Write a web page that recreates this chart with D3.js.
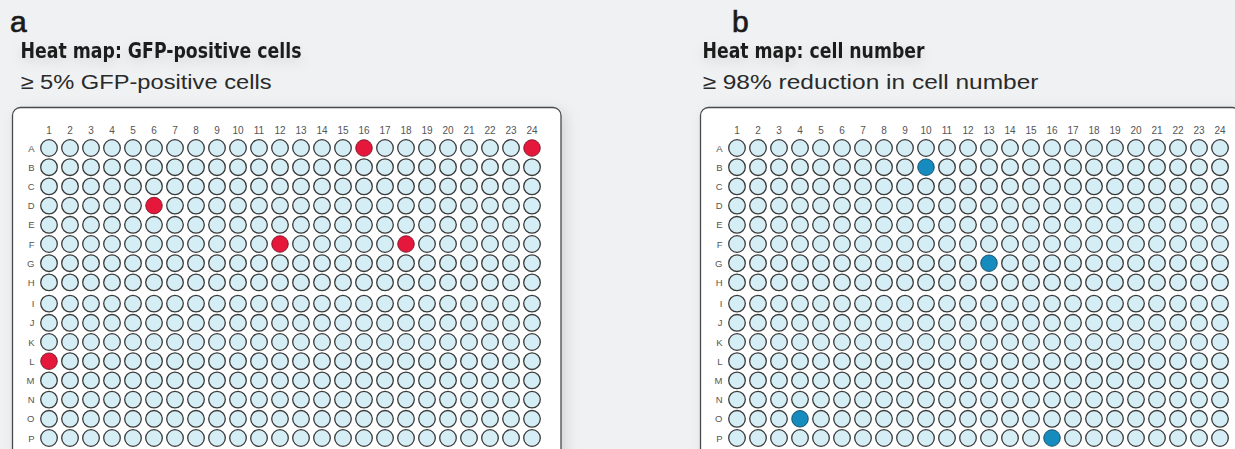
<!DOCTYPE html>
<html>
<head>
<meta charset="utf-8">
<script src="https://cdn.jsdelivr.net/npm/d3@7"></script>
<style>
  html, body { margin: 0; padding: 0; background: #eff1f3; }
  svg { display: block; }
</style>
</head>
<body>
<svg id="chart" width="1235" height="449"></svg>
<script>
// ---- data ----
const rows = ["A","B","C","D","E","F","G","H","I","J","K","L","M","N","O","P"];
const cols = [1,2,3,4,5,6,7,8,9,10,11,12,13,14,15,16,17,18,19,20,21,22,23,24];
// wells over threshold, panel a: >= 5% GFP-positive cells
const gfpHits = [["A",16],["A",24],["D",6],["F",12],["F",18],["L",1]];
// wells over threshold, panel b: >= 98% reduction in cell number
const cellHits = [["B",10],["G",13],["O",4],["P",16]];
const panelLetters = ["a","b"];
const panelTitles = ["Heat map: GFP-positive cells","Heat map: cell number"];
const panelSubtitles = ["\u2265 5% GFP-positive cells","\u2265 98% reduction in cell number"];

// ---- drawing ----
const svg = d3.select("#chart");
const defs = svg.append("defs");
const f = defs.append("filter").attr("id","shadow").attr("x","-10%").attr("y","-10%").attr("width","130%").attr("height","130%");
f.append("feDropShadow").attr("dx",4).attr("dy",4).attr("stdDeviation",7)
  .attr("flood-color","#000").attr("flood-opacity",0.12);
const tf = defs.append("filter").attr("id","tshadow").attr("x","-10%").attr("y","-50%").attr("width","120%").attr("height","200%");
tf.append("feDropShadow").attr("dx",0).attr("dy",5).attr("stdDeviation",6)
  .attr("flood-color","#000").attr("flood-opacity",0.10);

const panels = [
  { letter: panelLetters[0], title: panelTitles[0], sub: panelSubtitles[0], hits: gfpHits, hitFill: "#e5173b", hitStroke: "#6b1020",
    letterX: 10, textX: 20.5, box: [12.5, 107.5, 548.5], xr: [49, 532], titleW: 281, subW: 251 },
  { letter: panelLetters[1], title: panelTitles[1], sub: panelSubtitles[1], hits: cellHits, hitFill: "#168bbd", hitStroke: "#0d3d55",
    letterX: 732, textX: 702.5, box: [700.5, 107.5, 540], xr: [737, 1220], titleW: 222, subW: 336 }
];

const yp = d3.scalePoint().domain(rows).range([148, 148 + 15 * 19.2]);
const y = r => yp(r) + (rows.indexOf(r) >= 8 ? 2 : 0);

panels.forEach(p => {
  const g = svg.append("g");
  const x = d3.scalePoint().domain(cols).range(p.xr);

  g.append("text").attr("x", p.letterX).attr("y", 31.5)
    .attr("font-family", "'Liberation Sans', Arial, sans-serif")
    .attr("font-size", 30).attr("fill", "#1a1a1a")
    .attr("stroke", "#1a1a1a").attr("stroke-width", 0.7)
    .text(p.letter);

  g.append("text").attr("x", p.textX).attr("y", 57.5)
    .attr("font-family", "'Liberation Sans Narrow', 'DejaVu Sans Condensed', sans-serif")
    .attr("font-weight", "bold").attr("font-size", 20.5).attr("fill", "#1f1f1f")
    .attr("textLength", p.titleW).attr("lengthAdjust", "spacingAndGlyphs")
    .attr("filter", "url(#tshadow)")
    .text(p.title);

  g.append("text").attr("x", p.textX).attr("y", 89)
    .attr("font-family", "'Liberation Sans', Arial, sans-serif")
    .attr("font-size", 20.5).attr("fill", "#2a2a2a")
    .attr("textLength", p.subW).attr("lengthAdjust", "spacingAndGlyphs")
    .text(p.sub);

  // plate box
  g.append("rect").attr("x", p.box[0]).attr("y", p.box[1]).attr("width", p.box[2]).attr("height", 400)
    .attr("rx", 8).attr("ry", 8).attr("fill", "#ffffff").attr("stroke", "#4a4a4a").attr("stroke-width", 1.3)
    .attr("filter", "url(#shadow)");

  // column labels
  g.selectAll(".clab").data(cols).enter().append("text")
    .attr("x", d => x(d)).attr("y", 134).attr("text-anchor", "middle")
    .attr("font-family", "'Liberation Sans', Arial, sans-serif").attr("font-size", 10).attr("fill", "#555")
    .text(d => d);

  // row labels
  g.selectAll(".rlab").data(rows).enter().append("text")
    .attr("x", p.xr[0] - 14.5).attr("y", d => y(d) + 3.5).attr("text-anchor", "end")
    .attr("font-family", "'Liberation Sans', Arial, sans-serif").attr("font-size", 9.5).attr("fill", "#555")
    .text(d => d);

  const wells = [];
  rows.forEach(r => cols.forEach(c => wells.push({ r, c, hit: p.hits.some(h => h[0] === r && h[1] === c) })));

  g.selectAll(".well").data(wells).enter().append("circle")
    .attr("cx", d => x(d.c)).attr("cy", d => y(d.r)).attr("r", 8.3)
    .attr("fill", d => d.hit ? p.hitFill : "#d5eef6")
    .attr("stroke", d => d.hit ? p.hitStroke : "#3a3a3a")
    .attr("stroke-width", d => d.hit ? 0.8 : 1.3);
});
</script>
</body>
</html>
